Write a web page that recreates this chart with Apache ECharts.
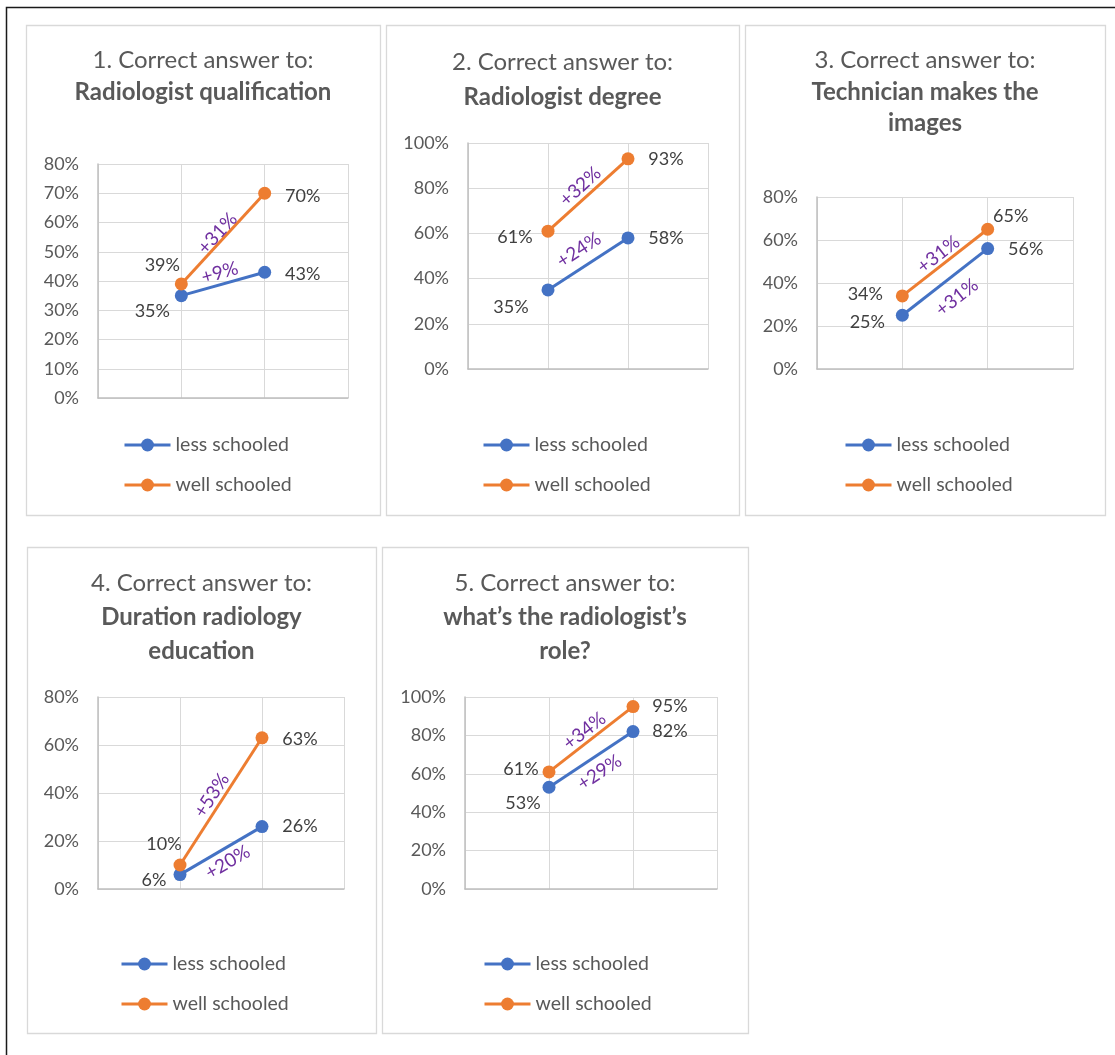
<!DOCTYPE html>
<html>
<head>
<meta charset="utf-8">
<script src="https://cdn.jsdelivr.net/npm/echarts@6/dist/echarts.min.js"></script>
<style>
  html, body { margin: 0; padding: 0; background: #ffffff; }
  #chart { width: 1115px; height: 1055px; }
</style>
</head>
<body>
<div id="chart"></div>
<script>
// ---- data ----
const seriesNames = ['less schooled', 'well schooled'];
const titleLeads = [
  '1. Correct answer to:',
  '2. Correct answer to:',
  '3. Correct answer to:',
  '4. Correct answer to:',
  '5. Correct answer to:'
];
const titleTopics = [
  ['Radiologist qualification'],
  ['Radiologist degree'],
  ['Technician makes the', 'images'],
  ['Duration radiology', 'education'],
  ['what’s the radiologist’s', 'role?']
];
const lessSchooled = [[35, 43], [35, 58], [25, 56], [6, 26], [53, 82]];
const wellSchooled = [[39, 70], [61, 93], [34, 65], [10, 63], [61, 95]];
const lessGain = ['+9%', '+24%', '+31%', '+20%', '+29%'];
const wellGain = ['+31%', '+32%', '+31%', '+53%', '+34%'];
const axisMax = [80, 100, 80, 80, 100];
const axisStep = [10, 20, 20, 20, 20];

// ---- layout ----
const FONT = 'Lato, "Open Sans", sans-serif';
const BLUE = '#4472C4';
const ORANGE = '#ED7D31';
const PURPLE = '#7030A0';
const TEXT = '#595959';
const LABEL = '#404040';

const panels = [
  { box: [26, 25, 354, 490], grid: { left: 98, top: 164, width: 250, height: 234 },
    titleTop: 45, lineH: 31.5, legend: [123, 435],
    lessLabels: [[-29, 16], [38, 2]], wellLabels: [[-19, -19], [38, 3]],
    lessGainPos: ['insideMiddleTop', 2], wellGainPos: ['insideMiddleTop', -2] },
  { box: [386, 25, 353, 490], grid: { left: 468, top: 143, width: 240, height: 226 },
    titleTop: 44.5, lineH: 35, legend: [482, 435],
    lessLabels: [[-37, 17], [38, 0]], wellLabels: [[-33, 6], [38, 0]],
    lessGainPos: ['insideMiddleTop', 7], wellGainPos: ['insideMiddleTop', 2] },
  { box: [745, 25, 360, 490], grid: { left: 817, top: 197, width: 256, height: 172 },
    titleTop: 45, lineH: 31.5, legend: [844, 435],
    lessLabels: [[-35, 7], [38, 1]], wellLabels: [[-37, -2], [23, -13]],
    lessGainPos: ['insideMiddleBottom', 10], wellGainPos: ['insideMiddleTop', 1] },
  { box: [27, 547, 349, 486], grid: { left: 98, top: 697, width: 246, height: 192 },
    titleTop: 566, lineH: 34, legend: [120, 954],
    lessLabels: [[-26, 6], [38, 0]], wellLabels: [[-16, -21], [38, 1]],
    lessGainPos: ['insideMiddleBottom', 4], wellGainPos: ['insideMiddleTop', 1.5] },
  { box: [382, 547, 366, 486], grid: { left: 465, top: 697, width: 252, height: 192 },
    titleTop: 566, lineH: 34, legend: [483, 954],
    lessLabels: [[-26, 16], [37, 0]], wellLabels: [[-28, -3], [37, 0]],
    lessGainPos: ['insideMiddleBottom', 6], wellGainPos: ['insideMiddleTop', 1] }
];

function makeSeries(i, name, values, color, offsets, gain, gainPos) {
  return {
    type: 'line',
    name: name,
    xAxisIndex: i,
    yAxisIndex: i,
    symbol: 'circle',
    symbolSize: 13,
    lineStyle: { color: color, width: 3 },
    itemStyle: { color: color },
    emphasis: { disabled: true },
    animation: false,
    data: values.map((v, k) => ({
      value: [k + 1, v],
      label: { offset: offsets[k] }
    })),
    label: {
      show: true,
      position: 'inside',
      formatter: (p) => p.value[1] + '%',
      fontFamily: FONT,
      fontSize: 18,
      color: LABEL
    },
    markLine: {
      silent: true,
      symbol: ['none', 'none'],
      animation: false,
      lineStyle: { color: 'transparent', width: 1, type: 'solid' },
      emphasis: { disabled: true },
      label: {
        show: true,
        position: gainPos[0],
        distance: gainPos[1],
        formatter: gain,
        fontFamily: FONT,
        fontSize: 19,
        color: PURPLE
      },
      data: [[{ coord: [1, values[0]] }, { coord: [2, values[1]] }]]
    }
  };
}

const grids = [], xAxes = [], yAxes = [], titles = [], legends = [], series = [], graphics = [];

// outer frame
graphics.push({
  type: 'rect', z: -10,
  shape: { x: 6.5, y: 7.5, width: 1200, height: 1200 },
  style: { fill: 'none', stroke: '#1a1a1a', lineWidth: 1.5 }
});

panels.forEach((p, i) => {
  graphics.push({
    type: 'rect', z: -5,
    shape: { x: p.box[0] + 0.5, y: p.box[1] + 0.5, width: p.box[2], height: p.box[3] },
    style: { fill: 'none', stroke: '#d9d9d9', lineWidth: 1.3 }
  });

  grids.push(Object.assign({ containLabel: false }, p.grid));

  xAxes.push({
    type: 'value', gridIndex: i, min: 0, max: 3, interval: 1,
    axisLine: { show: true, lineStyle: { color: '#bfbfbf', width: 1.5 } },
    axisTick: { show: false },
    axisLabel: { show: false },
    splitLine: { show: true, lineStyle: { color: '#d9d9d9', width: 1 } }
  });

  yAxes.push({
    type: 'value', gridIndex: i, min: 0, max: axisMax[i], interval: axisStep[i],
    axisLine: { show: true, lineStyle: { color: '#bfbfbf', width: 1.5 } },
    axisTick: { show: false },
    axisLabel: { formatter: '{value}%', fontFamily: FONT, fontSize: 18, color: TEXT, margin: 19 },
    splitLine: { show: true, lineStyle: { color: '#d9d9d9', width: 1 } }
  });

  const lines = ['{lead|' + titleLeads[i] + '}'].concat(titleTopics[i].map(t => '{topic|' + t + '}'));
  titles.push({
    text: lines.join('\n'),
    left: p.box[0] + p.box[2] / 2,
    top: p.titleTop,
    textAlign: 'center',
    padding: 0,
    textStyle: {
      rich: {
        lead: { fontFamily: FONT, fontSize: 24, fontWeight: 'normal', color: TEXT, lineHeight: p.lineH },
        topic: { fontFamily: FONT, fontSize: 24, fontWeight: 'bold', color: TEXT, lineHeight: p.lineH }
      }
    }
  });

  legends.push({
    orient: 'vertical',
    left: p.legend[0],
    top: p.legend[1],
    padding: 0,
    itemWidth: 46,
    itemHeight: 16,
    itemGap: 20,
    selectedMode: false,
    lineStyle: { width: 3 },
    data: seriesNames,
    textStyle: { fontFamily: FONT, fontSize: 19.5, color: TEXT }
  });

  series.push(makeSeries(i, seriesNames[0], lessSchooled[i], BLUE, p.lessLabels, lessGain[i], p.lessGainPos));
  series.push(makeSeries(i, seriesNames[1], wellSchooled[i], ORANGE, p.wellLabels, wellGain[i], p.wellGainPos));
});

const chart = echarts.init(document.getElementById('chart'), null, { renderer: 'canvas' });
chart.setOption({
  backgroundColor: '#ffffff',
  animation: false,
  title: titles,
  legend: legends,
  grid: grids,
  xAxis: xAxes,
  yAxis: yAxes,
  series: series,
  graphic: graphics
});
</script>
</body>
</html>
